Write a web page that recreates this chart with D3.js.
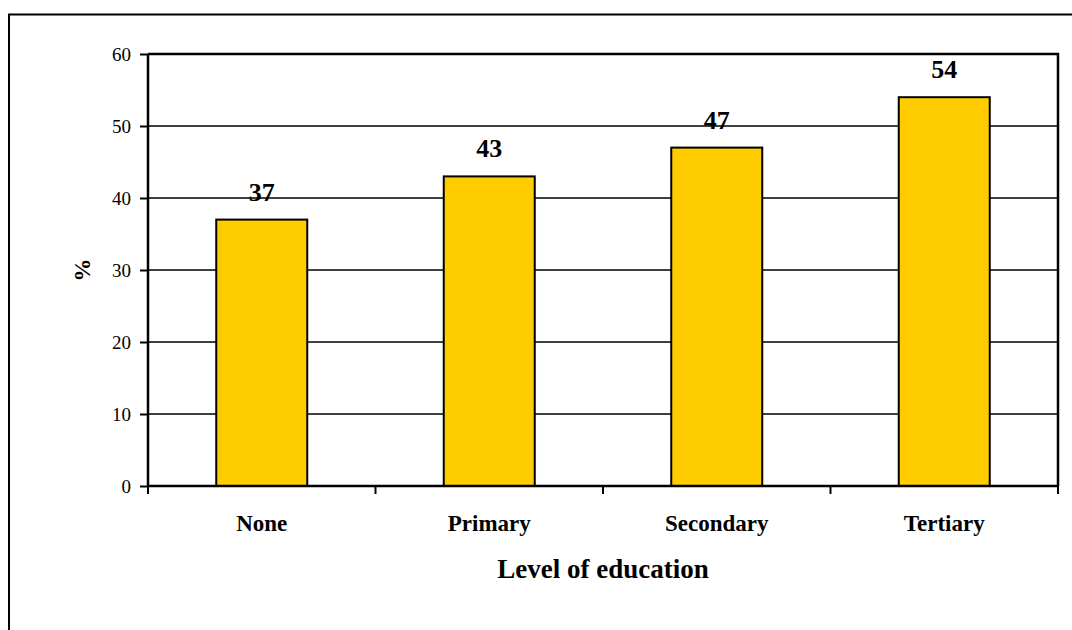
<!DOCTYPE html>
<html><head><meta charset="utf-8">
<script src="https://cdn.jsdelivr.net/npm/d3@7/dist/d3.min.js"></script>
<style>body{margin:0;background:#fff}svg{display:block}svg text{font-family:"Liberation Serif","Times New Roman",serif;fill:#000}</style>
</head><body>
<script>
const categories = ["None", "Primary", "Secondary", "Tertiary"];
const values = [37, 43, 47, 54];
const yTicks = [0, 10, 20, 30, 40, 50, 60];

const W = 1072, H = 630;
const m = {left: 148, top: 54, right: 1058, bottom: 486};
const svg = d3.select("body").append("svg").attr("width", W).attr("height", H);

// outer frame
svg.append("path").attr("d", `M9,${H+5}V14.5H${W+5}`).attr("fill","none").attr("stroke","#000").attr("stroke-width",2);

const x = d3.scaleBand().domain(categories).range([m.left, m.right]).paddingInner(0.6).paddingOuter(0.3);
const xb = d3.scaleBand().domain(categories).range([m.left, m.right]);
const y = d3.scaleLinear().domain([0, 60]).range([m.bottom, m.top]);

// gridlines
svg.append("g").selectAll("line").data(yTicks.filter(d => d > 0 && d < 60)).join("line")
  .attr("x1", m.left).attr("x2", m.right).attr("y1", d => y(d)).attr("y2", d => y(d))
  .attr("stroke", "#000").attr("stroke-width", 1.5);

// plot border top/right
svg.append("path").attr("d", `M${m.left},${y(60)}H${m.right}V${m.bottom}`).attr("fill","none").attr("stroke","#000").attr("stroke-width",2.5);

// bars
svg.append("g").selectAll("rect").data(values).join("rect")
  .attr("x", (d,i) => x(categories[i])).attr("width", x.bandwidth())
  .attr("y", d => y(d)).attr("height", d => y(0) - y(d))
  .attr("fill", "#FFCC00").attr("stroke", "#000").attr("stroke-width", 2);

// value labels
svg.append("g").selectAll("text").data(values).join("text")
  .attr("x", (d,i) => x(categories[i]) + x.bandwidth()/2)
  .attr("y", d => y(d) - 19)
  .attr("text-anchor", "middle").attr("font-weight", "bold").attr("font-size", 26)
  .text(d => d);

// y axis
const yAxis = d3.axisLeft(y).tickValues(yTicks).tickSize(8).tickPadding(9);
const gy = svg.append("g").attr("transform", `translate(${m.left},0)`).call(yAxis)
  .attr("font-family", null).attr("font-size", null);
gy.select(".domain").attr("stroke-width", 2.5).attr("d", `M0,${m.top}V${m.bottom}`);
gy.selectAll(".tick line").attr("stroke-width", 2);
gy.selectAll("text").style("font-size", "19px");

// x axis
const gx = svg.append("g").attr("transform", `translate(0,${m.bottom})`);
gx.append("line").attr("x1", m.left).attr("x2", m.right).attr("stroke", "#000").attr("stroke-width", 2.5);
const tickXs = categories.map(c => xb(c)).concat([m.right]);
gx.selectAll("line.t").data(tickXs).join("line").attr("class","t")
  .attr("x1", d => d).attr("x2", d => d).attr("y1", 0).attr("y2", 8)
  .attr("stroke", "#000").attr("stroke-width", 2);
gx.selectAll("text").data(categories).join("text")
  .attr("x", d => xb(d) + xb.bandwidth()/2).attr("y", 45)
  .attr("text-anchor", "middle").attr("font-weight", "bold").attr("font-size", 23)
  .text(d => d);

// axis titles
svg.append("text").attr("x", 603).attr("y", 578)
  .attr("text-anchor", "middle").attr("font-weight", "bold").attr("font-size", 27)
  .text("Level of education");
svg.append("text").attr("transform", `translate(90,${(m.top+m.bottom)/2}) rotate(-90)`)
  .attr("text-anchor", "middle").attr("font-weight", "bold").attr("font-size", 23)
  .text("%");
</script>
</body></html>
